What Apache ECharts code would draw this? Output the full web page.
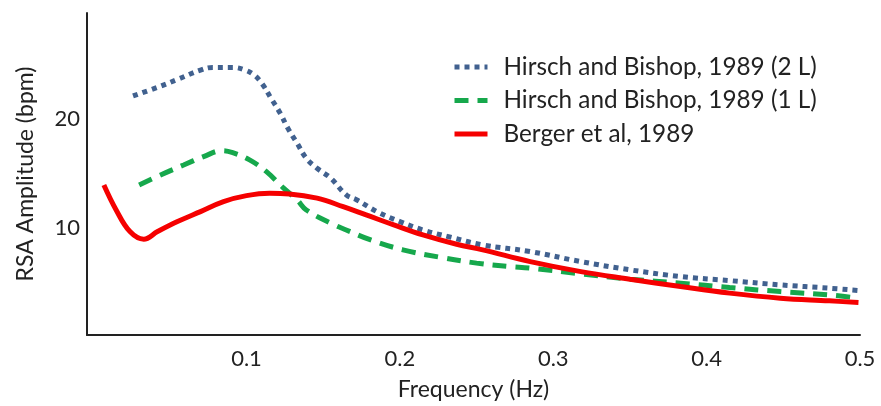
<!DOCTYPE html>
<html>
<head>
<meta charset="utf-8">
<script src="https://cdn.jsdelivr.net/npm/echarts@6/dist/echarts.min.js"></script>
<style>
  html, body { margin: 0; padding: 0; background: #ffffff; }
  #chart { width: 881px; height: 406px; }
</style>
</head>
<body>
<div id="chart"></div>
<script>
// Frequency (Hz) and RSA amplitude (bpm) for each study
const hb2Freq = [0.026, 0.042, 0.055, 0.070, 0.078, 0.091, 0.099, 0.105, 0.110, 0.116, 0.122, 0.127, 0.133, 0.139, 0.146, 0.155, 0.165, 0.172, 0.185, 0.200, 0.215, 0.233, 0.254, 0.285, 0.318, 0.350, 0.383, 0.415, 0.448, 0.480, 0.499];
const hb2Amp  = [22.05, 22.84, 23.56, 24.41, 24.65, 24.65, 24.41, 23.95, 23.20, 21.84, 20.47, 19.11, 17.75, 16.38, 15.47, 14.56, 13.05, 12.59, 11.53, 10.62, 9.86, 9.20, 8.50, 7.89, 6.98, 6.23, 5.62, 5.25, 4.86, 4.56, 4.35];

const hb1Freq = [0.030, 0.044, 0.059, 0.072, 0.084, 0.091, 0.102, 0.113, 0.124, 0.133, 0.139, 0.155, 0.165, 0.181, 0.202, 0.226, 0.250, 0.271, 0.285, 0.318, 0.350, 0.383, 0.415, 0.448, 0.480, 0.499];
const hb1Amp  = [13.95, 14.86, 15.77, 16.53, 17.07, 16.89, 16.23, 15.16, 13.68, 12.59, 11.68, 10.47, 9.86, 8.95, 8.05, 7.38, 6.84, 6.53, 6.38, 5.86, 5.38, 5.02, 4.62, 4.25, 3.95, 3.65];

const bergerFreq = [0.007, 0.015, 0.024, 0.033, 0.042, 0.055, 0.070, 0.085, 0.100, 0.115, 0.128, 0.146, 0.163, 0.178, 0.196, 0.215, 0.237, 0.254, 0.285, 0.318, 0.350, 0.383, 0.415, 0.448, 0.480, 0.499];
const bergerAmp  = [13.95, 11.68, 9.71, 9.02, 9.71, 10.62, 11.53, 12.44, 12.98, 13.20, 13.14, 12.75, 11.98, 11.23, 10.32, 9.41, 8.56, 8.05, 6.98, 6.07, 5.38, 4.71, 4.11, 3.65, 3.41, 3.25];

const seriesNames = ['Hirsch and Bishop, 1989 (2 L)', 'Hirsch and Bishop, 1989 (1 L)', 'Berger et al, 1989'];
const xTickLabels = [0.1, 0.2, 0.3, 0.4, 0.5];
const yTickLabels = [10, 20];

const pairs = (xs, ys) => xs.map((x, i) => [x, ys[i]]);

const FONT = 'Lato';
const INK = '#222';
const chart = echarts.init(document.getElementById('chart'), null, { renderer: 'canvas' });

chart.setOption({
  animation: false,
  backgroundColor: '#ffffff',
  grid: { left: 87, right: 21, top: 13, bottom: 71, containLabel: false },
  legend: {
    orient: 'vertical',
    left: 447,
    top: 50,
    itemWidth: 33,
    itemHeight: 14,
    itemGap: 9.5,
    data: seriesNames,
    itemStyle: { opacity: 0 },
    lineStyle: { width: 5 },
    textStyle: { fontFamily: FONT, fontSize: 24.3, lineHeight: 24, color: INK, padding: [0, 0, 0, 11] }
  },
  xAxis: {
    type: 'value',
    min: -0.004,
    max: 0.5,
    name: 'Frequency (Hz)',
    nameLocation: 'middle',
    nameGap: 43,
    nameTextStyle: { fontFamily: FONT, fontSize: 23, color: INK },
    axisLine: { show: true, onZero: false, lineStyle: { color: INK, width: 2 } },
    axisTick: { show: false },
    splitLine: { show: false },
    axisLabel: {
      customValues: xTickLabels,
      margin: 13,
      fontFamily: FONT, fontSize: 22, color: INK,
      formatter: v => v.toFixed(1)
    }
  },
  yAxis: {
    type: 'value',
    min: 0.3,
    max: 29.6,
    name: 'RSA Amplitude (bpm)',
    nameLocation: 'middle',
    nameGap: 50,
    nameTextStyle: { fontFamily: FONT, fontSize: 23, color: INK },
    axisLine: { show: true, onZero: false, lineStyle: { color: INK, width: 2 } },
    axisTick: { show: false },
    splitLine: { show: false },
    axisLabel: {
      customValues: yTickLabels,
      margin: 7,
      fontFamily: FONT, fontSize: 22, color: INK
    }
  },
  series: [
    {
      name: seriesNames[0],
      type: 'line',
      smooth: 0.4,
      showSymbol: false,
      symbol: 'none',
      data: pairs(hb2Freq, hb2Amp),
      lineStyle: { color: '#41618f', width: 5, type: [5, 5], cap: 'butt' },
      itemStyle: { color: '#41618f' },
      z: 3
    },
    {
      name: seriesNames[1],
      type: 'line',
      smooth: 0.4,
      showSymbol: false,
      symbol: 'none',
      data: pairs(hb1Freq, hb1Amp),
      lineStyle: { color: '#16a84c', width: 5, type: [14, 9], cap: 'butt' },
      itemStyle: { color: '#16a84c' },
      z: 2
    },
    {
      name: seriesNames[2],
      type: 'line',
      smooth: 0.4,
      showSymbol: false,
      symbol: 'none',
      data: pairs(bergerFreq, bergerAmp),
      lineStyle: { color: '#f50000', width: 5, type: 'solid' },
      itemStyle: { color: '#f50000' },
      z: 4
    }
  ]
});
</script>
</body>
</html>
